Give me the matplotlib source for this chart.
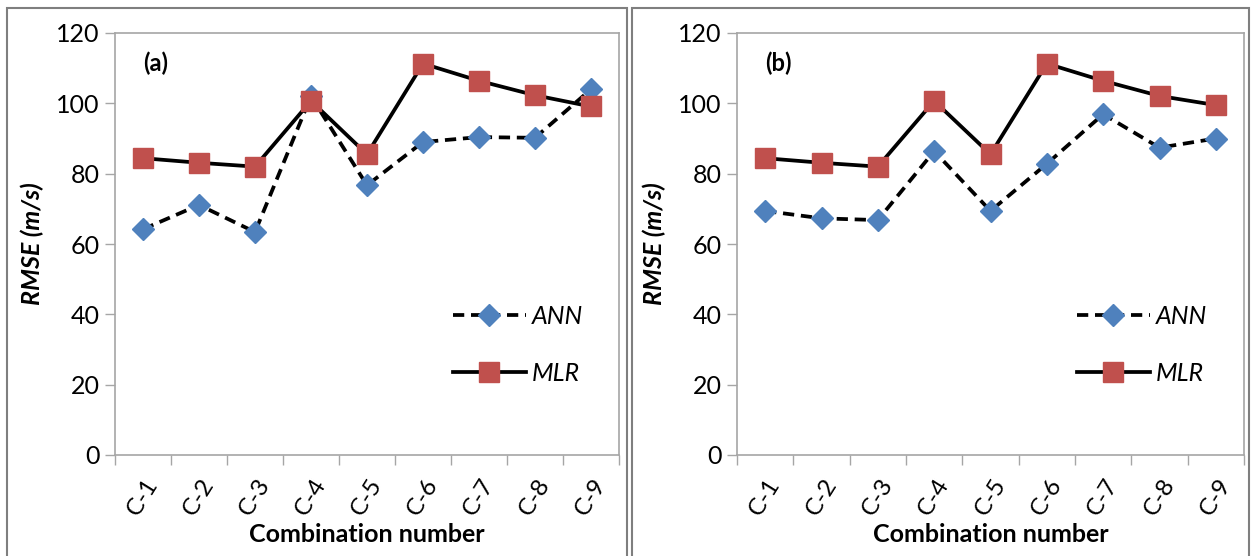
import matplotlib
matplotlib.use("Agg")
import matplotlib.pyplot as plt
from matplotlib.patches import Rectangle
from matplotlib.ticker import FixedLocator, NullFormatter

plt.rcParams['font.family'] = ['Lato', 'DejaVu Sans']

categories = ["C-1", "C-2", "C-3", "C-4", "C-5", "C-6", "C-7", "C-8", "C-9"]
ann_a = [64.2, 71.1, 63.4, 102.0, 76.7, 89.0, 90.4, 90.2, 104.0]
mlr_a = [84.4, 83.1, 82.0, 100.7, 85.5, 111.3, 106.4, 102.3, 99.1]
ann_b = [69.4, 67.3, 66.8, 86.4, 69.4, 82.8, 96.9, 87.4, 90.0]
mlr_b = [84.4, 83.1, 82.0, 100.7, 85.5, 111.3, 106.4, 102.1, 99.5]
panel_labels = ["(a)", "(b)"]
yticks = [0, 20, 40, 60, 80, 100, 120]

W, H = 1251, 556
fig = plt.figure(figsize=(W / 100, H / 100), dpi=100)

# panel borders (chart areas)
for x0, x1 in [(7, 627), (632, 1249)]:
    fig.patches.append(Rectangle((x0 / W, -0.02), (x1 - x0) / W, (H - 8) / H + 0.02,
                                 transform=fig.transFigure, fill=False,
                                 edgecolor='#7f7f7f', lw=1.5))

axes_px = [(115, 619), (737, 1244)]
top_px, bot_px = 33, 455
datasets = [(ann_a, mlr_a), (ann_b, mlr_b)]
gray = '#a6a6a6'

for (l, r), (ann, mlr), plab in zip(axes_px, datasets, panel_labels):
    ax = fig.add_axes([l / W, 1 - bot_px / H, (r - l) / W, (bot_px - top_px) / H])
    x = list(range(1, len(categories) + 1))
    ax.plot(x, ann, color='black', lw=2.7, dashes=(3, 1.8), marker='D', ms=11,
            mfc='#4f81bd', mec='#4f81bd', label='ANN', zorder=3)
    ax.plot(x, mlr, color='black', lw=2.7, marker='s', ms=14,
            mfc='#c0504d', mec='#c0504d', label='MLR', zorder=4)
    ax.set_xlim(0.5, len(categories) + 0.5)
    ax.set_ylim(0, 120)
    ax.set_yticks(yticks)
    ax.tick_params(axis='y', length=7, width=1, color=gray, labelsize=18, pad=4)
    ax.xaxis.set_major_locator(FixedLocator([i + 0.5 for i in range(0, len(categories) + 1)]))
    ax.xaxis.set_major_formatter(NullFormatter())
    ax.xaxis.set_minor_locator(FixedLocator(x))
    ax.set_xticklabels(categories, minor=True, rotation=58, ha='center', va='top', fontsize=17.5)
    ax.tick_params(axis='x', which='major', length=7, width=1, color=gray)
    ax.tick_params(axis='x', which='minor', length=0, pad=14)
    for s in ax.spines.values():
        s.set_color(gray)
        s.set_linewidth(1.2)
    ax.set_xlabel("Combination number", fontsize=18, fontweight='bold', labelpad=3)
    ax.set_ylabel("RMSE (m/s)", fontsize=18, fontweight='bold', style='italic', labelpad=9)
    ax.text(0.081, 0.929, plab, transform=ax.transAxes, fontsize=17, fontweight='bold',
            ha='center', va='center')
    leg = ax.legend(loc='upper left', bbox_to_anchor=(0.671, 0.355), frameon=False,
                    prop={'style': 'italic', 'size': 18},
                    handlelength=2.9, handletextpad=0.25, labelspacing=1.35,
                    borderpad=0, borderaxespad=0)

fig.savefig("out.png", dpi=100)
